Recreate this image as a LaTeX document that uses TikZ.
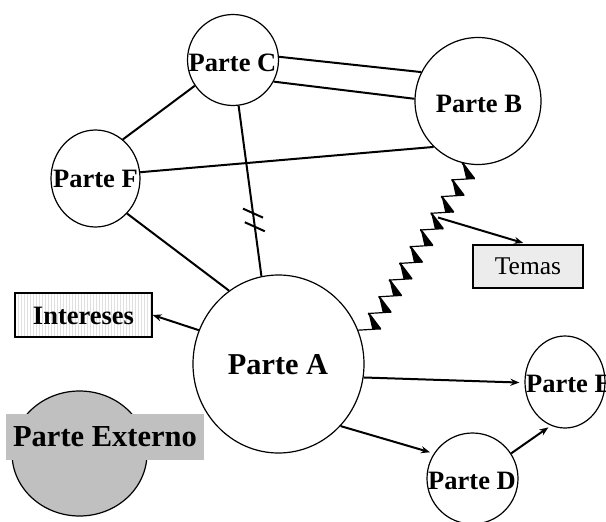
\documentclass[tikz,border=0pt]{standalone}
\usepackage{fontspec}
\setmainfont{Liberation Serif}
\usetikzlibrary{arrows.meta,shapes.geometric,patterns,calc}
\definecolor{extgray}{RGB}{192,192,192}
\definecolor{temasgray}{RGB}{236,236,236}
\begin{document}
\begin{tikzpicture}[x=1pt,y=-1pt,
  party/.style={draw, ellipse, line width=1.2pt, inner sep=0pt},
  lbl/.style={font=\fontsize{26.5}{26.5}\selectfont\bfseries, inner sep=0pt},
  conn/.style={line width=2pt},
  arr/.style={line width=2pt, -{Stealth[length=9pt,width=7pt]}},
  tick/.style={line width=2pt}
]
\useasboundingbox (0,0) rectangle (606,522);

% parties
\node[party, minimum width=91, minimum height=91] (c) at (233,60) {};
\node[party, minimum width=126, minimum height=127] (b) at (478,101) {};
\node[party, minimum width=89, minimum height=97] (f) at (95.5,178.5) {};
\node[party, minimum width=171, minimum height=178] (a) at (278.5,364) {};
\node[party, minimum width=80, minimum height=92] (e) at (565,382) {};
\node[party, minimum width=91, minimum height=91] (d) at (472.5,478.5) {};
\node[party, fill=extgray, minimum width=135, minimum height=125] (x) at (79.5,453.5) {};

% labels
\node[lbl] (cl) at (232.5,62.5) {Parte C};
\node[lbl] (bl) at (479,104) {Parte B};
\node[lbl] (fl) at (95.5,179) {Parte F};
\node[lbl, font=\fontsize{30.3}{30.3}\selectfont\bfseries] (al) at (278,364.5) {Parte A};
\node[lbl] (dl) at (472,481) {Parte D};
\node[lbl, anchor=west] (el) at (526,384) {Parte E};
\node[fill=extgray, minimum width=198, minimum height=46, inner sep=0pt,
      font=\fontsize{30.5}{30.5}\selectfont\bfseries] (xl) at (105,436.5) {Parte Externo};

% boxes
\node[draw, line width=1.2pt, minimum width=137, minimum height=44, inner sep=0pt,
      pattern=vertical lines, pattern color=black!12] (intb) at (83.5,315) {};
\node[lbl] (int) at (83.5,316) {Intereses};
\node[draw, line width=1.2pt, fill=temasgray, minimum width=110, minimum height=43, inner sep=0pt,
      font=\fontsize{25.5}{25.5}\selectfont] (tm) at (528,266.5) {Temas};

% connectors
\draw[conn] (c.4) -- (b.153);
\draw[conn] (c.-28) -- (b.178);
\draw[conn] (c.214) -- (f.55);
\draw[conn] (f.8) -- (b.226);
\draw[conn] (c.277) -- (a.101);
\draw[conn] (f.-48) -- (a.124);
\draw[arr] (a.157) -- (intb.east);
\draw[arr, shorten >=5pt] (a.-9) -- (e.181);
\draw[arr, shorten >=4pt] (a.-45) -- (d.147);
\draw[arr, shorten >=3pt] (d.33) -- (e.252);

% double tick on C-A
\coordinate (t1) at ($(c.277)!0.63!(a.101)$);
\coordinate (t2) at ($(c.277)!0.71!(a.101)$);
\draw[tick] ($(t1)+(-10,-4.5)$) -- ($(t1)+(10,4.5)$);
\draw[tick] ($(t2)+(-10,-4.5)$) -- ($(t2)+(10,4.5)$);

% zigzag A-B
\coordinate (zs) at (a.23);
\coordinate (ze) at (b.256);
\foreach \i in {0,...,9} {
  \pgfmathsetmacro\ta{\i/10}
  \pgfmathsetmacro\tb{(\i+0.65)/10}
  \pgfmathsetmacro\tc{(\i+1)/10}
  \coordinate (p0) at ($(zs)!\ta!(ze)$);
  \coordinate (pm) at ($(zs)!\tb!(ze)$);
  \coordinate (p1) at ($(zs)!\tc!(ze)$);
  \coordinate (tip) at ($(pm)!18pt!-90:(ze)$);
  \coordinate (tipb) at ($(tip)!8pt!(p0)$);
  \draw[line width=1.2pt] (p0) -- (tip);
  \fill (tip) -- (p1) -- (tipb) -- cycle;
  \draw[line width=2pt, line cap=round] (tip) -- (p1);
}
\coordinate (zm) at ($(zs)!0.7!(ze)$);
\coordinate (zt) at ($(zm)!8pt!-90:(ze)$);
\draw[arr, shorten >=5pt] (zt) -- (tm.north);
\end{tikzpicture}
\end{document}
